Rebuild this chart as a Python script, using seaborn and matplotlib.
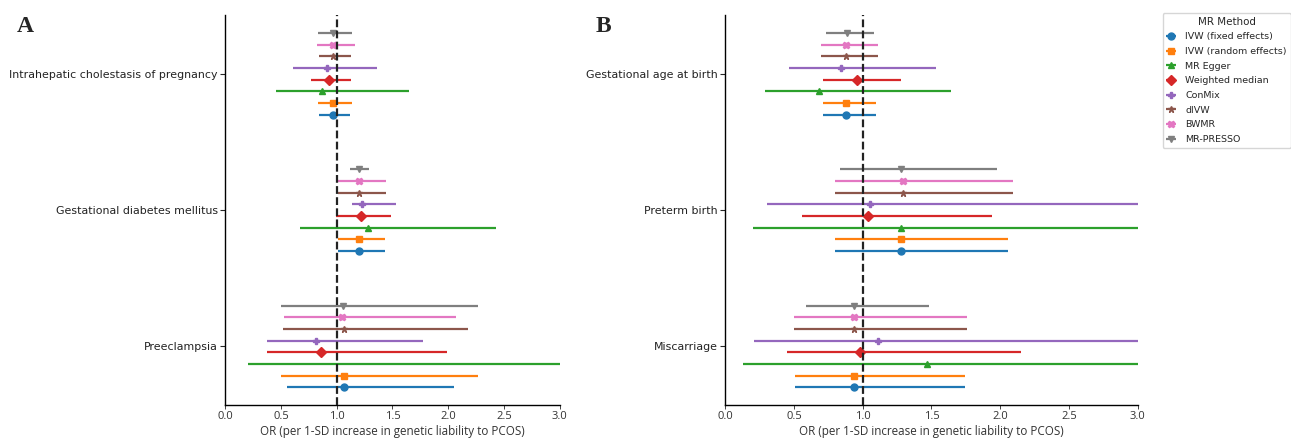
import numpy as np
import matplotlib.pyplot as plt
import seaborn as sns

# MR methods (bottom to top within each outcome)
methods = ['IVW (fixed effects)', 'IVW (random effects)', 'MR Egger', 'Weighted median',
           'ConMix', 'dIVW', 'BWMR', 'MR-PRESSO']
markers = ['o', 's', '^', 'D', 'P', '*', 'X', 'v']

# Panel A outcomes (top to bottom)
outcomes_a = ['Intrahepatic cholestasis of pregnancy', 'Gestational diabetes mellitus', 'Preeclampsia']
icp_or = [0.97, 0.97, 0.865, 0.93, 0.91, 0.97, 0.97, 0.97]
icp_lo = [0.845, 0.83, 0.455, 0.77, 0.61, 0.84, 0.82, 0.83]
icp_hi = [1.12, 1.14, 1.65, 1.13, 1.36, 1.13, 1.16, 1.14]
gdm_or = [1.20, 1.20, 1.28, 1.215, 1.23, 1.20, 1.20, 1.20]
gdm_lo = [1.01, 1.01, 0.67, 0.99, 1.14, 1.01, 1.01, 1.12]
gdm_hi = [1.43, 1.43, 2.43, 1.49, 1.53, 1.44, 1.44, 1.29]
pe_or = [1.065, 1.065, 3.30, 0.86, 0.81, 1.065, 1.05, 1.06]
pe_lo = [0.555, 0.50, 0.20, 0.37, 0.37, 0.52, 0.53, 0.50]
pe_hi = [2.05, 2.27, 9.50, 1.99, 1.77, 2.18, 2.07, 2.27]

# Panel B outcomes (top to bottom)
outcomes_b = ['Gestational age at birth', 'Preterm birth', 'Miscarriage']
ga_or = [0.88, 0.88, 0.685, 0.955, 0.845, 0.88, 0.88, 0.885]
ga_lo = [0.71, 0.71, 0.29, 0.71, 0.466, 0.70, 0.70, 0.73]
ga_hi = [1.10, 1.10, 1.64, 1.28, 1.53, 1.11, 1.11, 1.08]
ptb_or = [1.28, 1.28, 1.28, 1.04, 1.055, 1.29, 1.29, 1.28]
ptb_lo = [0.80, 0.80, 0.20, 0.56, 0.30, 0.80, 0.80, 0.835]
ptb_hi = [2.06, 2.06, 8.00, 1.94, 3.70, 2.09, 2.09, 1.975]
mis_or = [0.935, 0.935, 1.465, 0.98, 1.11, 0.935, 0.935, 0.935]
mis_lo = [0.505, 0.505, 0.13, 0.45, 0.21, 0.50, 0.50, 0.59]
mis_hi = [1.745, 1.745, 9.00, 2.15, 4.20, 1.76, 1.76, 1.48]

panels = [
    ('A', outcomes_a, [(icp_or, icp_lo, icp_hi), (gdm_or, gdm_lo, gdm_hi), (pe_or, pe_lo, pe_hi)]),
    ('B', outcomes_b, [(ga_or, ga_lo, ga_hi), (ptb_or, ptb_lo, ptb_hi), (mis_or, mis_lo, mis_hi)]),
]

sns.set_style('ticks')
colors = sns.color_palette('tab10', len(methods))

fig = plt.figure(figsize=(12.91, 4.41), dpi=100)
axes = [fig.add_axes([0.1745, 0.0816, 0.259, 0.884]),
        fig.add_axes([0.5618, 0.0816, 0.3194, 0.884])]

offsets = np.linspace(-0.3, 0.3, len(methods))
xlabel = 'OR (per 1-SD increase in genetic liability to PCOS)'
xt = np.arange(0, 3.01, 0.5)

for ax, (letter, outcomes, data) in zip(axes, panels):
    n = len(outcomes)
    for j, m in enumerate(methods):
        ys, est, lo, hi = [], [], [], []
        for i, (o, l, h) in enumerate(data):
            ys.append(n - 1 - i + offsets[j])
            est.append(o[j]); lo.append(l[j]); hi.append(h[j])
        est = np.array(est); lo = np.array(lo); hi = np.array(hi)
        ax.errorbar(est, ys, xerr=[est - lo, hi - est], fmt=markers[j], color=colors[j],
                    ecolor=colors[j], elinewidth=1.6, capsize=0, markersize=5,
                    label=m, zorder=2)
    ax.axvline(1, color='#222222', linestyle=(0, (3.5, 1.5)), linewidth=1.6, zorder=3)
    ax.set_xlim(0, 3)
    ax.set_ylim(-0.43, n - 1 + 0.43)
    ax.set_yticks(range(n))
    ax.set_yticklabels(outcomes[::-1], fontsize=7.9, color='#222222')
    ax.set_xticks(xt)
    ax.set_xticklabels([f'{v:.1f}' for v in xt], family='Open Sans', fontsize=8, color='#333333')
    ax.set_xlabel(xlabel, family='Open Sans', fontsize=8.4, labelpad=2.5, color='#333333')
    ax.tick_params(axis='y', length=3.5, width=0.8, pad=2)
    ax.tick_params(axis='x', length=3, width=0.6, pad=1.2)
    sns.despine(ax=ax)
    for s in ['left', 'bottom']:
        ax.spines[s].set_linewidth(1.0)
        ax.spines[s].set_color('black')

fig.text(0.013, 0.94, 'A', family='Liberation Serif', fontweight='bold', fontsize=17, va='center')
fig.text(0.461, 0.94, 'B', family='Liberation Serif', fontweight='bold', fontsize=17, va='center')

handles, labels = axes[0].get_legend_handles_labels()
fig.legend(handles, labels, title='MR Method', loc='upper right', bbox_to_anchor=(1.0, 0.972),
           fontsize=6.8, title_fontsize=7.4, frameon=True, handlelength=1.0, labelspacing=0.6,
           borderpad=0.4, handletextpad=1.0, borderaxespad=0.05)

fig.savefig('out.png', dpi=100)
